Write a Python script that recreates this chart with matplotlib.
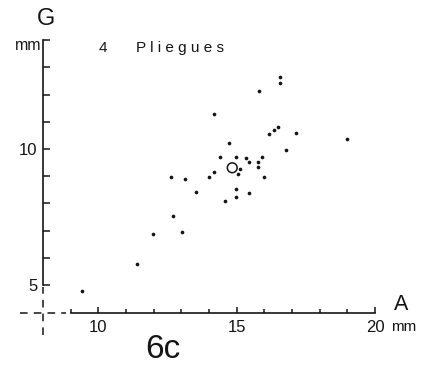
import matplotlib
matplotlib.use("Agg")
import matplotlib.pyplot as plt
from matplotlib.ticker import FixedLocator

# Data (A = x, G = y, in mm)
a_values = [16.58, 16.58, 15.82, 14.17, 16.51, 16.34, 16.17, 17.14, 18.98, 14.74,
            16.79, 14.41, 14.99, 15.33, 15.91, 15.45, 15.78, 15.78, 15.12, 15.06,
            14.18, 13.99, 15.98, 12.63, 13.14, 14.98, 13.54, 15.44, 14.98, 14.59,
            12.69, 13.02, 11.97, 11.39, 9.40]
g_values = [12.66, 12.44, 12.13, 11.29, 10.81, 10.69, 10.55, 10.58, 10.37, 10.21,
            9.96, 9.69, 9.72, 9.66, 9.71, 9.52, 9.52, 9.34, 9.26, 9.09,
            9.15, 8.96, 8.96, 8.97, 8.89, 8.54, 8.41, 8.39, 8.25, 8.10,
            7.53, 6.96, 6.86, 5.76, 4.78]
mean_a = [14.84]
mean_g = [9.31]

x_major = [10, 15, 20]
x_major_labels = ["10", "15", "20"]
x_minor = [9, 11, 12, 13, 14, 16, 17, 18, 19]
y_major = [5, 10]
y_major_labels = ["5", "10"]
y_minor = [6, 7, 8, 9, 11, 12, 13, 14]

plt.rcParams['font.family'] = ['Liberation Sans', 'DejaVu Sans']

fig = plt.figure(figsize=(4.24, 3.72), dpi=100)
ax = fig.add_axes([0, 0, 1, 1])
ax.set_xlim(6.447, 21.771)
ax.set_ylim(1.801, 15.478)
ax.patch.set_alpha(0)

ink = "#151515"

for s in ["top", "right"]:
    ax.spines[s].set_visible(False)
ax.spines["left"].set_position(("data", 8.0))
ax.spines["left"].set_bounds(5, 14)
ax.spines["bottom"].set_position(("data", 3.97))
ax.spines["bottom"].set_bounds(9, 20)
for s in ["left", "bottom"]:
    ax.spines[s].set_color(ink)
    ax.spines[s].set_linewidth(1.2)

ax.xaxis.set_major_locator(FixedLocator(x_major))
ax.set_xticklabels(x_major_labels)
ax.xaxis.set_minor_locator(FixedLocator(x_minor))
ax.yaxis.set_major_locator(FixedLocator(y_major))
ax.set_yticklabels(y_major_labels)
ax.yaxis.set_minor_locator(FixedLocator(y_minor))

ax.tick_params(axis="x", which="major", direction="in", length=4.5, width=1.1,
               color=ink, labelsize=12, pad=5, labelcolor=ink)
ax.tick_params(axis="x", which="minor", direction="in", length=3, width=1.1, color=ink)
ax.tick_params(axis="y", which="major", direction="in", length=5, width=1.1,
               color=ink, labelsize=12, pad=4, labelcolor=ink)
ax.tick_params(axis="y", which="minor", direction="in", length=5, width=1.1, color=ink)

# dashed origin cross
ax.plot([7.17, 8.83], [3.97, 3.97], color=ink, lw=1.1, dashes=(5, 4))
ax.plot([8.0, 8.0], [3.16, 4.93], color=ink, lw=1.1, dashes=(5, 4))

ax.scatter(a_values, g_values, s=7, color=ink, zorder=3, linewidths=0)
ax.scatter(mean_a, mean_g, s=50, facecolors="none", edgecolors=ink, linewidths=1.1, zorder=3)

# texts (axes fraction positions)
ax.text(46 / 424, 1 - 19 / 372, "G", transform=ax.transAxes, fontsize=17,
        ha="center", va="center", color=ink)
ax.text(41 / 424, 1 - 46 / 372, "mm", transform=ax.transAxes, fontsize=11.5,
        ha="right", va="center", color=ink)
ax.text(103 / 424, 1 - 48 / 372, "4", transform=ax.transAxes, fontsize=11,
        ha="center", va="center", color=ink)
ax.text(136 / 424, 1 - 48 / 372, "P l i e g u e s", transform=ax.transAxes, fontsize=11,
        ha="left", va="center", color=ink)
ax.text(401 / 424, 1 - 305 / 372, "A", transform=ax.transAxes, fontsize=15.5,
        ha="center", va="center", color=ink)
ax.text(391 / 424, 1 - 327 / 372, "mm", transform=ax.transAxes, fontsize=11,
        ha="left", va="center", color=ink)
ax.text(163 / 424, 1 - 350 / 372, "6c", transform=ax.transAxes, fontsize=24,
        ha="center", va="center", color=ink)

fig.savefig("out.png", dpi=100, facecolor="white")
